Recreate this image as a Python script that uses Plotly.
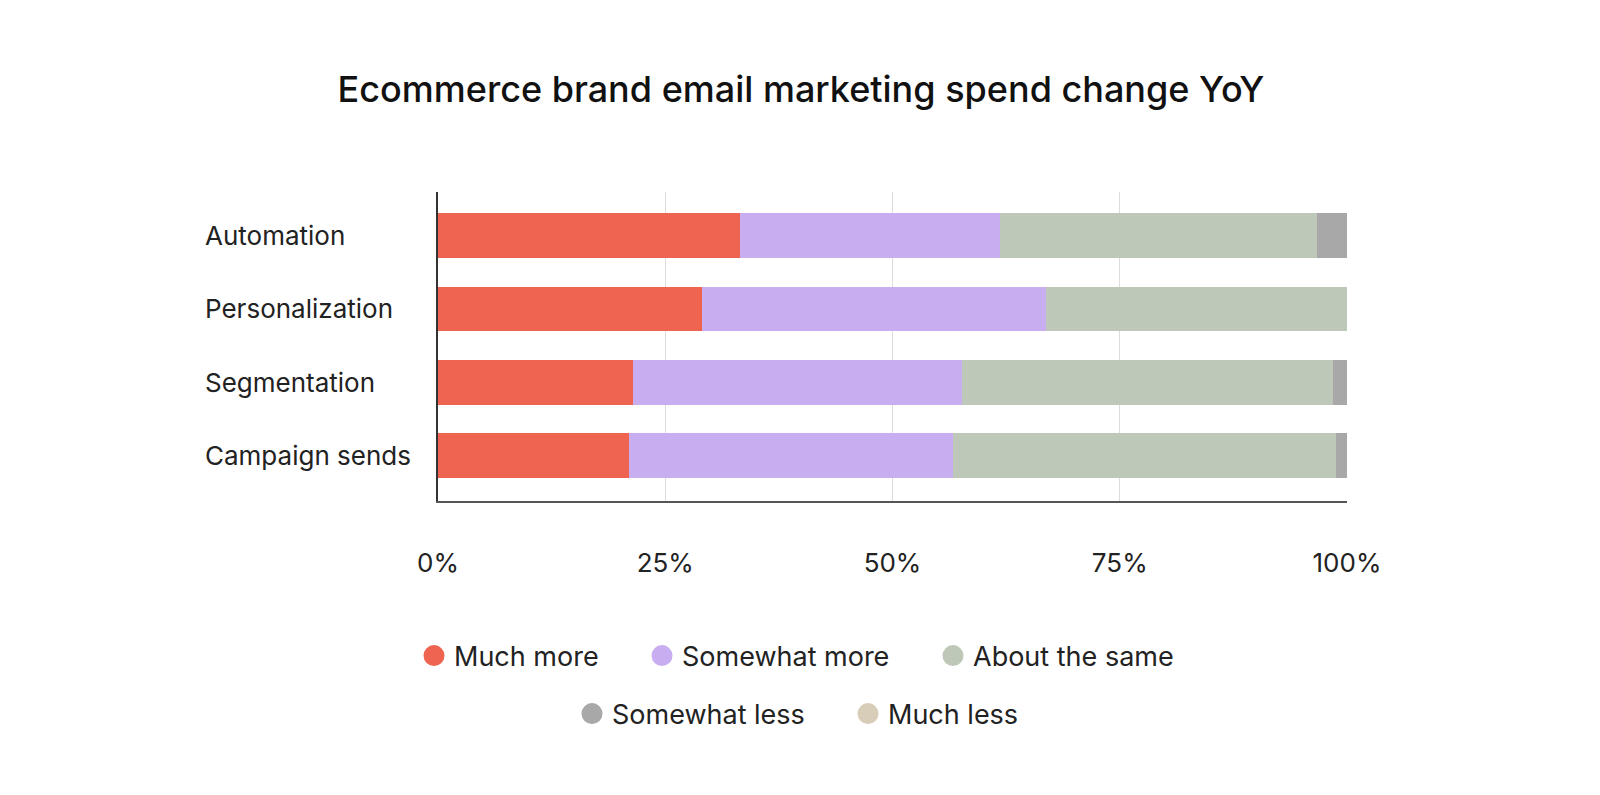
import plotly.graph_objects as go

categories = ["Automation", "Personalization", "Segmentation", "Campaign sends"]
series_names = ["Much more", "Somewhat more", "About the same", "Somewhat less", "Much less"]
much_more = [33.2, 29.0, 21.5, 21.0]
somewhat_more = [28.6, 37.9, 36.1, 35.7]
about_same = [34.9, 33.1, 40.9, 42.1]
somewhat_less = [3.3, 0.0, 1.5, 1.2]
much_less = [0.0, 0.0, 0.0, 0.0]
tick_vals = [0, 25, 50, 75, 100]
tick_text = ["0%", "25%", "50%", "75%", "100%"]
title_text = "Ecommerce brand email marketing spend change YoY"

colors = ["#EF6450", "#C8ADF0", "#BDC8B9", "#A8A8A8", "#D8CDB8"]
series_values = [much_more, somewhat_more, about_same, somewhat_less, much_less]

FONT = "Inter"
W, H = 1600, 795
fig = go.Figure()
for name, vals, col in zip(series_names, series_values, colors):
    fig.add_trace(go.Bar(
        y=categories, x=vals, name=name, orientation="h",
        marker=dict(color=col, line=dict(width=0)),
        width=0.61, showlegend=False, hoverinfo="x+name",
    ))

# legend layout: one legend per entry, placed in two centred rows
legend_ids = ["legend", "legend2", "legend3", "legend4", "legend5"]
legend_left_px = [406, 634, 925, 564, 840]
legend_row_px = [648, 648, 648, 706, 706]

for name, col, lid in zip(series_names, colors, legend_ids):
    fig.add_trace(go.Scatter(
        x=[None], y=[None], mode="markers", name=name,
        marker=dict(color=col, size=16, symbol="circle", line=dict(color=col, width=5)),
        legend=lid,
    ))

for cat in categories:
    fig.add_annotation(
        x=-0.2585, xref="paper", y=cat, yref="y", text=cat,
        showarrow=False, xanchor="left", yanchor="middle",
        font=dict(family=FONT, size=26, color="#222222"),
    )

legend_layouts = {}
for lid, lx, ly in zip(legend_ids, legend_left_px, legend_row_px):
    legend_layouts[lid] = dict(
        orientation="h", x=lx / W, xanchor="left", xref="container",
        y=1 - ly / H, yanchor="middle", yref="container",
        font=dict(family=FONT, size=27, color="#222222"),
        itemsizing="trace", itemwidth=30, bgcolor="rgba(0,0,0,0)",
    )

fig.update_layout(
    width=W, height=H,
    paper_bgcolor="white", plot_bgcolor="white",
    margin=dict(l=430, r=261, t=184, b=302),
    barmode="stack",
    title=dict(text=title_text, x=793 / W, xanchor="center", y=1 - 81 / H, yanchor="middle",
               xref="container", yref="container",
               font=dict(family=FONT, size=36, color="#111111", weight=500)),
    xaxis=dict(range=[0, 100], tickvals=tick_vals, ticktext=tick_text,
               showgrid=True, gridcolor="#DDDDDD", gridwidth=1, zeroline=False,
               showline=True, linecolor="#555555", linewidth=2,
               ticks="", ticklabelstandoff=38,
               tickfont=dict(family=FONT, size=26, color="#222222")),
    yaxis=dict(type="category", range=[3.62, -0.595], showticklabels=False,
               showgrid=False, zeroline=False, showline=True,
               linecolor="#333333", linewidth=1.5, ticks=""),
    **legend_layouts,
)

fig.write_html("out.html")
